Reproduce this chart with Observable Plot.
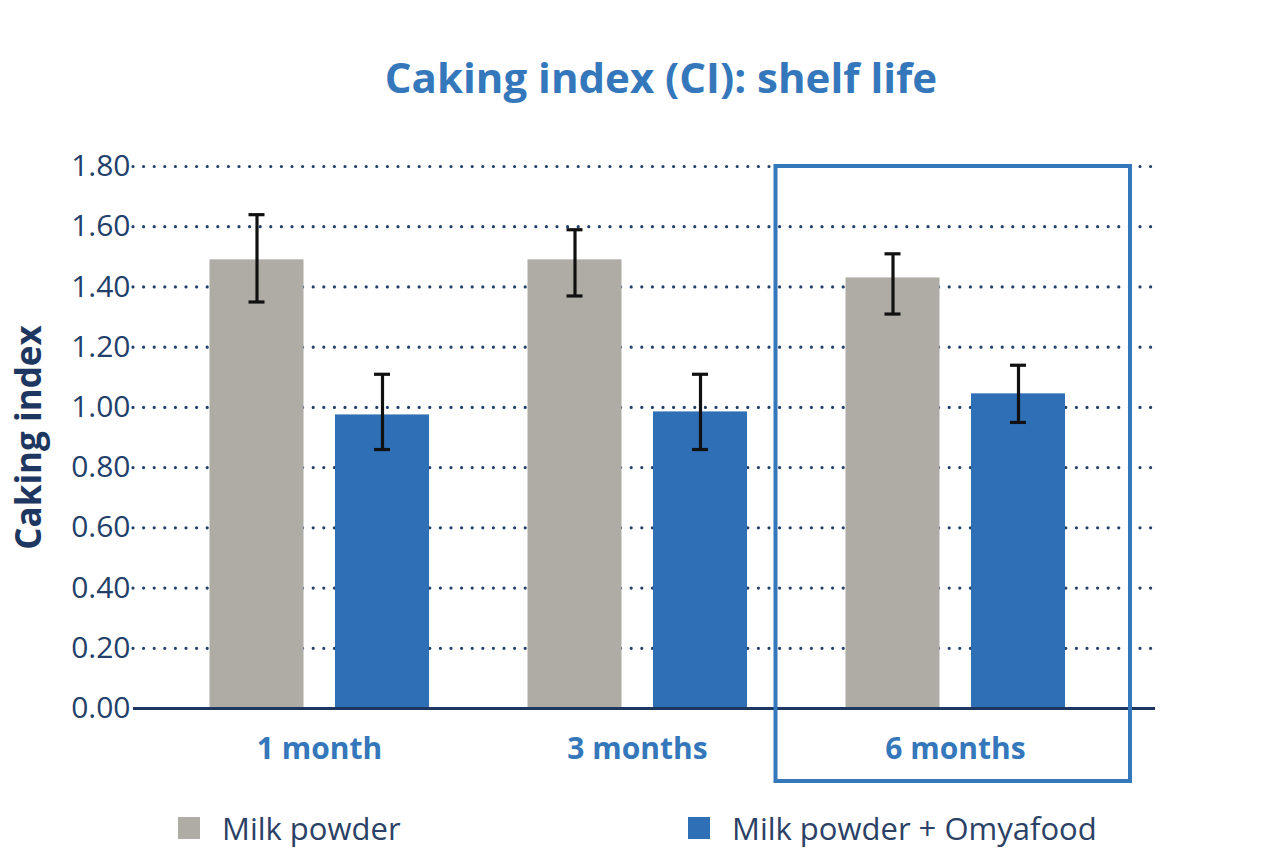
<!DOCTYPE html>
<html>
<head>
<meta charset="utf-8">
<script src="https://cdn.jsdelivr.net/npm/d3@7"></script>
<script src="https://cdn.jsdelivr.net/npm/@observablehq/plot@0.6"></script>
<style>
  html, body { margin: 0; padding: 0; background: #ffffff; }
  body { width: 1280px; height: 853px; position: relative; overflow: hidden; font-family: "Open Sans", "Noto Sans", sans-serif; }
  #title { position: absolute; left: 0; top: 48px; width: 1322px; text-align: center; font-size: 42px; font-weight: bold; color: #3577bb; line-height: 58px; }
  #chart { position: absolute; left: 0; top: 130px; }
  .legend { position: absolute; top: 807px; height: 42px; display: flex; align-items: center; font-size: 31px; color: #2b4166; }
  .legend .sw { width: 22px; height: 22px; margin-right: 22px; }
</style>
</head>
<body>
<div id="title">Caking index (CI): shelf life</div>
<div id="chart"></div>
<div class="legend" style="left:178px"><span class="sw" style="background:#afaca6"></span><span id="lg0"></span></div>
<div class="legend" style="left:688px"><span class="sw" style="background:#2f6fb6"></span><span id="lg1"></span></div>
<script>
// Storage periods and the two sample series
const periods = ["1 month", "3 months", "6 months"];
const seriesNames = ["Milk powder", "Milk powder + Omyafood"];

// Mean caking index and error-bar bounds per period
const milkMean = [1.49, 1.49, 1.43];
const milkLow = [1.35, 1.37, 1.31];
const milkHigh = [1.64, 1.59, 1.51];

const omyaMean = [0.975, 0.985, 1.045];
const omyaLow = [0.86, 0.86, 0.95];
const omyaHigh = [1.11, 1.11, 1.14];

const yTicks = [0, 0.2, 0.4, 0.6, 0.8, 1.0, 1.2, 1.4, 1.6, 1.8];
const highlighted = ["6 months"];

const colors = ["#afaca6", "#2f6fb6"];
const navy = "#22406a";
const accent = "#3577bb";

document.getElementById("lg0").textContent = seriesNames[0];
document.getElementById("lg1").textContent = seriesNames[1];

const rows = periods.flatMap((p, i) => [
  {period: p, series: seriesNames[0], mean: milkMean[i], lo: milkLow[i], hi: milkHigh[i]},
  {period: p, series: seriesNames[1], mean: omyaMean[i], lo: omyaLow[i], hi: omyaHigh[i]}
]);

// Layout of bars inside each period band
const step = 318;
const barW = 94;
const capW = 16;
const offsets = {[seriesNames[0]]: -62.5, [seriesNames[1]]: 63};
const barInset = (step - barW) / 2;
const capInset = (step - capW) / 2;

const marks = [
  Plot.gridY(yTicks.filter(d => d > 0), {stroke: navy, strokeOpacity: 1, strokeWidth: 3.2, strokeDasharray: "0,10.6", strokeLinecap: "round"})
];
seriesNames.forEach((s, k) => {
  const data = rows.filter(r => r.series === s);
  marks.push(
    Plot.barY(data, {x: "period", y: "mean", fill: colors[k], insetLeft: barInset, insetRight: barInset, dx: offsets[s]}),
    Plot.ruleX(data, {x: "period", y1: "lo", y2: "hi", stroke: "#111", strokeWidth: 3.2, dx: offsets[s]}),
    Plot.tickY(data, {x: "period", y: "hi", stroke: "#111", strokeWidth: 3.2, insetLeft: capInset, insetRight: capInset, dx: offsets[s]}),
    Plot.tickY(data, {x: "period", y: "lo", stroke: "#111", strokeWidth: 3.2, insetLeft: capInset, insetRight: capInset, dx: offsets[s]})
  );
});
marks.push(
  Plot.ruleY([0], {stroke: "#1d3761", strokeWidth: 3}),
  Plot.rectY(highlighted, {x: d => d, y1: 0, y2: 1.8, fill: "none", stroke: accent, strokeWidth: 4,
    insetLeft: -20.5, insetRight: -16, insetBottom: -73}),
  Plot.axisX({tickSize: 0, tickPadding: 29, fontSize: 30, fontWeight: "bold", fill: accent, label: null}),
  Plot.axisY({ticks: yTicks, tickFormat: d3.format(".2f"), tickSize: 0, tickPadding: 3, fontSize: 30, fill: navy, label: null}),
  Plot.text(["Caking index"], {frameAnchor: "left", textAnchor: "middle", rotate: -90, dx: -104, fontSize: 35, fontWeight: "bold", fill: "#1e3760"})
);

const chart = Plot.plot({
  width: 1280,
  height: 668,
  marginLeft: 133,
  marginRight: 125,
  marginTop: 36,
  marginBottom: 90,
  style: {fontFamily: "'Open Sans', 'Noto Sans', sans-serif", background: "transparent", overflow: "visible"},
  x: {domain: periods, range: [159.5, 1113.5], padding: 0},
  y: {domain: [0, 1.8]},
  marks
});
document.getElementById("chart").appendChild(chart);
</script>
</body>
</html>
